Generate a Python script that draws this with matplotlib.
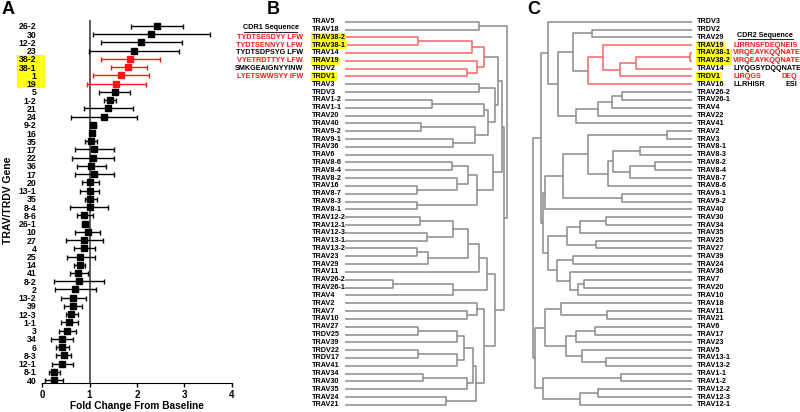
import numpy as np
import matplotlib.pyplot as plt
from matplotlib.patches import Rectangle
import matplotlib.transforms as mtransforms

plt.rcParams['font.family'] = ['Liberation Sans', 'DejaVu Sans']
plt.rcParams['font.weight'] = 'bold'

# ---------------- panel A: fold change per gene ----------------
genes = ['26-2', '30', '12-2', '23', '38-2', '38-1', '1', '19', '5', '1-2', '21', '24',
         '9-2', '16', '35', '17', '22', '36', '17', '20', '13-1', '35', '8-4', '8-6',
         '26-1', '10', '27', '4', '25', '14', '41', '8-2', '2', '13-2', '39', '12-3',
         '1-1', '3', '34', '6', '8-3', '12-1', '8-1', '40']
fold = [2.42, 2.29, 2.09, 1.93, 1.86, 1.82, 1.66, 1.56, 1.53, 1.44, 1.39, 1.30,
        1.07, 1.06, 1.03, 1.10, 1.07, 1.03, 1.10, 1.02, 1.00, 1.02, 1.00, 0.89,
        0.90, 0.96, 0.89, 0.89, 0.81, 0.79, 0.76, 0.77, 0.70, 0.65, 0.65, 0.62,
        0.56, 0.53, 0.42, 0.42, 0.46, 0.42, 0.25, 0.25]
low = [1.88, 1.07, 1.25, 0.99, 1.25, 1.45, 1.07, 0.95, 1.21, 1.31, 0.89, 0.60,
       1.00, 1.01, 0.91, 0.69, 0.63, 0.74, 0.69, 0.84, 0.79, 0.91, 0.58, 0.74,
       0.84, 0.70, 0.51, 0.68, 0.53, 0.68, 0.58, 0.25, 0.27, 0.40, 0.47, 0.51,
       0.39, 0.35, 0.19, 0.30, 0.30, 0.21, 0.14, 0.07]
high = [2.97, 3.53, 2.95, 2.88, 2.48, 2.21, 2.25, 2.18, 1.86, 1.56, 1.92, 1.99,
        1.14, 1.10, 1.16, 1.52, 1.52, 1.34, 1.52, 1.21, 1.21, 1.16, 1.40, 1.07,
        0.96, 1.23, 1.28, 1.12, 1.12, 0.91, 0.96, 1.30, 1.14, 0.93, 0.84, 0.75,
        0.75, 0.72, 0.65, 0.56, 0.61, 0.65, 0.37, 0.44]
red_rows = [4, 5, 6, 7]

# ---------------- panel B: CDR1 dendrogram ----------------
b_leaves = ['TRAV5', 'TRAV18', 'TRAV38-2', 'TRAV38-1', 'TRAV14', 'TRAV19', 'TRDV2', 'TRDV1',
            'TRAV3', 'TRDV3', 'TRAV1-2', 'TRAV1-1', 'TRAV20', 'TRAV40', 'TRAV9-2', 'TRAV9-1',
            'TRAV36', 'TRAV6', 'TRAV8-6', 'TRAV8-4', 'TRAV8-2', 'TRAV16', 'TRAV8-7', 'TRAV8-3',
            'TRAV8-1', 'TRAV12-2', 'TRAV12-1', 'TRAV12-3', 'TRAV13-1', 'TRAV13-2', 'TRAV23',
            'TRAV29', 'TRAV11', 'TRAV26-2', 'TRAV26-1', 'TRAV4', 'TRAV2', 'TRAV7', 'TRAV10',
            'TRAV27', 'TRDV25', 'TRAV39', 'TRDV22', 'TRDV17', 'TRAV41', 'TRAV34', 'TRAV30',
            'TRAV35', 'TRAV24', 'TRAV21']
b_yellow = ['TRAV38-2', 'TRAV38-1', 'TRAV19', 'TRDV1']
b_red = ['TRAV38-2', 'TRAV38-1', 'TRAV14', 'TRAV19', 'TRDV2', 'TRDV1']
# nodes are (height, left, right)
b_redclus = (139.3, (126.7, (72.7, 'TRAV38-2', 'TRAV38-1'), 'TRAV14'),
             (131.7, 'TRAV19', (121.7, 'TRDV2', 'TRDV1')))
b_g = (150, (134.3, 'TRAV3', 'TRDV3'),
       (143.3, (139, (86.7, 'TRAV1-2', 'TRAV1-1'), 'TRAV20'),
        (130, (76, 'TRAV40', 'TRAV9-2'), (108.3, 'TRAV9-1', 'TRAV36'))))
b_n = (148.3, 'TRAV6',
       (131.7, (123.3, (106.7, 'TRAV8-6', 'TRAV8-4'),
                (111.7, 'TRAV8-2', (72.3, 'TRAV16', 'TRAV8-7'))),
        (72.3, 'TRAV8-3', 'TRAV8-1')))
b_d = (141.7, (134.3, (123.3, (108.3, (75, 'TRAV12-2', 'TRAV12-1'), (81.7, 'TRAV12-3', 'TRAV13-1')),
                       (83.3, (72.3, 'TRAV13-2', 'TRAV23'), 'TRAV29')), 'TRAV11'),
       (108.3, (47.7, 'TRAV26-2', 'TRAV26-1'), 'TRAV4'))
b_f = (139, (131.7, 'TRAV2', (121.7, 'TRAV7', 'TRAV10')),
       (131, (128.3, (119, (111.7, (72.7, 'TRAV27', 'TRDV25'), 'TRAV39'),
                      (111.7, (72.7, 'TRDV22', 'TRDV17'), 'TRAV41')),
              (121.7, (78.3, 'TRAV34', 'TRAV30'), 'TRAV35')),
        (101, 'TRAV24', 'TRAV21')))
b_tree = (161.7, (134, 'TRAV5', 'TRAV18'),
          (159, (156.7, (153, b_redclus, b_g), b_n), (150, b_d, b_f)))
cdr1_genes = ['TRAV38-2', 'TRAV38-1', 'TRAV14', 'TRAV19', 'TRDV2', 'TRDV1']
cdr1_seq = ['TYDTSESDYY LFW', 'TYDTSENNYY LFW', 'TYDTSDPSYG LFW',
            'VYETRDTTYY LFW', 'SMKGEAIGNYYINW', 'LYETSWWSYY IFW']
cdr1_isred = [True, True, False, True, False, True]

# ---------------- panel C: CDR2 dendrogram ----------------
c_leaves = ['TRDV3', 'TRDV2', 'TRAV29', 'TRAV19', 'TRAV38-1', 'TRAV38-2', 'TRAV14', 'TRDV1',
            'TRAV16', 'TRAV26-2', 'TRAV26-1', 'TRAV4', 'TRAV22', 'TRAV41', 'TRAV2', 'TRAV3',
            'TRAV8-1', 'TRAV8-3', 'TRAV8-2', 'TRAV8-4', 'TRAV8-7', 'TRAV8-6', 'TRAV9-1',
            'TRAV9-2', 'TRAV40', 'TRAV30', 'TRAV34', 'TRAV35', 'TRAV25', 'TRAV27', 'TRAV39',
            'TRAV24', 'TRAV36', 'TRAV7', 'TRAV20', 'TRAV10', 'TRAV18', 'TRAV11', 'TRAV21',
            'TRAV6', 'TRAV17', 'TRAV23', 'TRAV5', 'TRAV13-1', 'TRAV13-2', 'TRAV1-1', 'TRAV1-2',
            'TRAV12-2', 'TRAV12-3', 'TRAV12-1']
c_yellow = ['TRAV19', 'TRAV38-1', 'TRAV38-2', 'TRDV1']
c_red = ['TRAV19', 'TRAV38-1', 'TRAV38-2', 'TRAV14', 'TRDV1', 'TRAV16']
c_top = (143.7, 'TRDV3',
         (133.7, (118.7, (100.3, 'TRDV2', 'TRAV29'),
                  (104, (89, 'TRAV19', (72, (56, (2, 'TRAV38-1', 'TRAV38-2'), 'TRAV14'), 'TRDV1')),
                   'TRAV16')),
          (116, (94, (80.3, (70.3, 'TRAV26-2', 'TRAV26-1'), 'TRAV4'), 'TRAV22'), 'TRAV41')))
c_mid = (147, (128.7, (104, (25.3, 'TRAV2', 'TRAV3'),
                       (84, (79, (52, 'TRAV8-1', 'TRAV8-3'),
                             (62, (37, 'TRAV8-2', 'TRAV8-4'), 'TRAV8-7')), 'TRAV8-6')),
               (70.3, 'TRAV9-1', 'TRAV9-2')), 'TRAV40')
c_n = (143.7, (125.3, (112, (86, 'TRAV30', 'TRAV34'), 'TRAV35'), (96, 'TRAV25', 'TRAV27')),
       (135.3, (119, 'TRAV39', 'TRAV24'),
        (122, 'TRAV36', (114, (108, 'TRAV7', 'TRAV20'), 'TRAV10'))))
c_l = (147, (131.3, 'TRAV18', (85.3, 'TRAV11', 'TRAV21')),
       (126.3, (116, (97, 'TRAV6', 'TRAV17'), 'TRAV23'),
        (110, 'TRAV5', (86, 'TRAV13-1', 'TRAV13-2'))))
c_bot = (149.3, (71, 'TRAV1-1', 'TRAV1-2'),
         (112, (94, 'TRAV12-2', 'TRAV12-3'), 'TRAV12-1'))
c_tree = (159, (151, c_top, (149, c_mid, c_n)), (157, c_l, c_bot))
cdr2_genes = ['TRAV19', 'TRAV38-1', 'TRAV38-2', 'TRAV14', 'TRDV1', 'TRAV16']
cdr2_seq = [('LIRRNSFDEQNEIS', ''), ('VIRQEAYKQQNATE', ''), ('VIRQEAYKQQNATE', ''),
            ('LIYQGSYDQQNATE', ''), ('LIRQGS', 'DEQ'), ('LLRHISR', 'ESI')]
cdr2_isred = [True, True, True, False, True, False]

GREY = '#8a8a8a'
PINK = '#f26464'
RED = '#ff1414'
YELLOW = '#ffff1a'


def draw_tree(ax, node, leaves, red_set):
    if isinstance(node, str):
        return leaves.index(node), 0.0, [node]
    h, left, right = node
    yl, hl, nl = draw_tree(ax, left, leaves, red_set)
    yr, hr, nr = draw_tree(ax, right, leaves, red_set)
    names = nl + nr
    col = PINK if all(n in red_set for n in names) else GREY
    ax.plot([hl, h, h, hr], [yl, yl, yr, yr], color=col, lw=1.1, solid_capstyle='butt')
    return (yl + yr) / 2, h, names


fig = plt.figure(figsize=(8, 4.12), dpi=100)

# ---- A ----
axA = fig.add_axes([42 / 800, 1 - 383.3 / 412, 190 / 800, (383.3 - 19.8) / 412])
ypos = np.arange(len(genes))
for i in ypos:
    c = RED if i in red_rows else 'black'
    axA.errorbar(fold[i], i, xerr=[[fold[i] - low[i]], [high[i] - fold[i]]], fmt='s',
                 color=c, ms=4.2, capsize=1.8, elinewidth=1, capthick=1)
axA.axvline(1, color='#333333', lw=1.1, zorder=0)
axA.set_xlim(0, 4)
axA.set_ylim(len(genes) - 0.6, -0.75)
axA.set_xticks([0, 1, 2, 3, 4])
axA.set_yticks(ypos)
axA.set_yticklabels(genes)
axA.tick_params(axis='y', length=0, pad=4, labelsize=6.3)
axA.tick_params(axis='x', length=3, width=1, labelsize=7, pad=1.5)
for s in ['top', 'right', 'left']:
    axA.spines[s].set_visible(False)
axA.set_xlabel('Fold Change From Baseline', fontsize=7.3, fontweight='bold', labelpad=1)
for i, lab in enumerate(axA.get_yticklabels()):
    lab.set_fontweight('bold')
trA = mtransforms.blended_transform_factory(axA.transAxes, axA.transData)
axA.add_patch(Rectangle((-0.13, red_rows[0] - 0.5), 0.145, len(red_rows), transform=trA,
                        facecolor=YELLOW, edgecolor='none', clip_on=False, zorder=-1))
fig.text(8 / 800, 1 - 200 / 412, 'TRAV/TRDV Gene', rotation=90, fontsize=7.5,
         fontweight='bold', ha='center', va='center')

# ---- B ----
axB = fig.add_axes([345 / 800, 1 - 408.8 / 412, 165 / 800, (408.8 - 17.8) / 412])
draw_tree(axB, b_tree, b_leaves, b_red)
axB.set_xlim(0, 165)
axB.set_ylim(len(b_leaves) - 0.5, -0.5)
axB.axis('off')
trB = mtransforms.blended_transform_factory(axB.transAxes, axB.transData)
for i, name in enumerate(b_leaves):
    bb = dict(facecolor=YELLOW, edgecolor='none', pad=0.4) if name in b_yellow else None
    axB.text(-0.2, i, name, transform=trB, ha='left', va='center', fontsize=5.2,
             fontweight='bold', bbox=bb)
for g, seq, isr in zip(cdr1_genes, cdr1_seq, cdr1_isred):
    axB.text(-0.255, b_leaves.index(g), seq, transform=trB, ha='right', va='center',
             fontsize=5.2, fontweight='bold', color=RED if isr else 'black')
axB.text(-0.45, 0.8, 'CDR1 Sequence', transform=trB, ha='center', va='center',
         fontsize=5.2, fontweight='bold')
axB.plot([-0.61, -0.29], [1.3, 1.3], transform=trB, color='black', lw=0.6, clip_on=False)

# ---- C ----
axC = fig.add_axes([523 / 800, 1 - 408.8 / 412, 169 / 800, (408.8 - 17.8) / 412])
draw_tree(axC, c_tree, c_leaves, c_red)
axC.set_xlim(169, 0)
axC.set_ylim(len(c_leaves) - 0.5, -0.5)
axC.axis('off')
trC = mtransforms.blended_transform_factory(axC.transAxes, axC.transData)
for i, name in enumerate(c_leaves):
    bb = dict(facecolor=YELLOW, edgecolor='none', pad=0.4) if name in c_yellow else None
    axC.text(1.03, i, name, transform=trC, ha='left', va='center', fontsize=5.2,
             fontweight='bold', bbox=bb)
for g, seq, isr in zip(cdr2_genes, cdr2_seq, cdr2_isred):
    col = RED if isr else 'black'
    axC.text(1.243, c_leaves.index(g), seq[0], transform=trC, ha='left', va='center',
             fontsize=5.2, fontweight='bold', color=col)
    if seq[1]:
        axC.text(1.625, c_leaves.index(g), seq[1], transform=trC, ha='right', va='center',
                 fontsize=5.2, fontweight='bold', color=col)
axC.text(1.43, 1.7, 'CDR2 Sequence', transform=trC, ha='center', va='center',
         fontsize=5.2, fontweight='bold')
axC.plot([1.275, 1.595], [2.2, 2.2], transform=trC, color='black', lw=0.6, clip_on=False)

# panel letters
fig.text(8 / 800, 1 - 9 / 412, 'A', fontsize=13, fontweight='bold', ha='center', va='center')
fig.text(273 / 800, 1 - 10 / 412, 'B', fontsize=13, fontweight='bold', ha='center', va='center')
fig.text(534 / 800, 1 - 10 / 412, 'C', fontsize=13, fontweight='bold', ha='center', va='center')

plt.savefig('out.png', dpi=100)
